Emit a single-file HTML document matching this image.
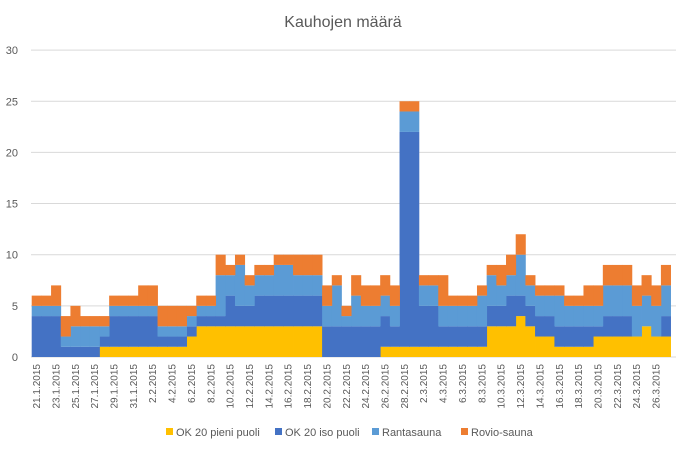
<!DOCTYPE html>
<html><head><meta charset="utf-8">
<style>
html,body{margin:0;padding:0;background:#fff;}
svg{display:block;font-family:"Liberation Sans",sans-serif;}
</style></head>
<body>
<svg id="c" width="686" height="453" viewBox="0 0 686 453" xmlns="http://www.w3.org/2000/svg">
<rect width="686" height="453" fill="#fff"/>
<text x="343" y="27" text-anchor="middle" font-size="16" fill="#595959">Kauhojen määrä</text>
<g id="grid"></g>
<g id="series"></g>
<g id="ylab" font-size="11" fill="#595959" text-anchor="end"></g>
<g id="xlab" font-size="10" fill="#595959"></g>
<g font-size="11" fill="#595959">
<rect x="166" y="428" width="7" height="7" fill="#FFC000"/><text x="176" y="436">OK 20 pieni puoli</text>
<rect x="275" y="428" width="7" height="7" fill="#4472C4"/><text x="285" y="436">OK 20 iso puoli</text>
<rect x="372" y="428" width="7" height="7" fill="#5B9BD5"/><text x="382" y="436">Rantasauna</text>
<rect x="461" y="428" width="7" height="7" fill="#ED7D31"/><text x="471" y="436">Rovio-sauna</text>
</g>
</svg>
<script>
var d=[[0,4,5,6],[0,4,5,6],[0,4,5,7],[0,1,2,4],[0,1,3,5],[0,1,3,4],[0,1,3,4],[1,2,3,4],[1,4,5,6],[1,4,5,6],[1,4,5,6],[1,4,5,7],[1,4,5,7],[1,2,3,5],[1,2,3,5],[1,2,3,5],[2,3,4,5],[3,4,5,6],[3,4,5,6],[3,4,8,10],[3,6,8,9],[3,5,9,10],[3,5,7,8],[3,6,8,9],[3,6,8,9],[3,6,9,10],[3,6,9,10],[3,6,8,10],[3,6,8,10],[3,6,8,10],[0,3,5,7],[0,3,7,8],[0,3,4,5],[0,3,6,8],[0,3,5,7],[0,3,5,7],[1,4,6,8],[1,3,5,7],[1,22,24,25],[1,22,24,25],[1,5,7,8],[1,5,7,8],[1,3,5,8],[1,3,5,6],[1,3,5,6],[1,3,5,6],[1,3,6,7],[3,5,8,9],[3,5,7,9],[3,6,8,10],[4,6,10,12],[3,5,7,8],[2,4,6,7],[2,4,6,7],[1,3,6,7],[1,3,5,6],[1,3,5,6],[1,3,5,7],[2,3,5,7],[2,4,7,9],[2,4,7,9],[2,4,7,9],[2,2,5,7],[3,3,6,8],[2,2,5,7],[2,4,7,9]];
var cols=["#FFC000","#4472C4","#5B9BD5","#ED7D31"];
var x0=31.7,w=9.68,Y=function(v){return 357-10.23*v;};
var ns="http://www.w3.org/2000/svg",s="",g="",yl="",xl="";
for(var k=0;k<=6;k++){var y=Y(k*5);g+='<line x1="31" x2="676" y1="'+y+'" y2="'+y+'" stroke="#d9d9d9" stroke-width="1"/>';yl+='<text x="18" y="'+(y+4)+'">'+(k*5)+'</text>';}
for(var sI=0;sI<4;sI++){
 for(var i=0;i<d.length;i++){var lo=sI?d[i][sI-1]:0,hi=d[i][sI];if(hi>lo){s+='<rect x="'+(x0+w*i)+'" y="'+Y(hi)+'" width="'+(w+0.4)+'" height="'+(Y(lo)-Y(hi))+'" fill="'+cols[sI]+'"/>';}}
}
var dates=[];var dt=new Date(2015,0,21);
for(var i=0;i<66;i++){dates.push(dt.getDate()+'.'+(dt.getMonth()+1)+'.2015');dt.setDate(dt.getDate()+1);}
for(var i=0;i<66;i+=2){var cx=x0+w*(i+0.5)+3.5;xl+='<text transform="translate('+cx+',364) rotate(-90)" text-anchor="end">'+dates[i]+'</text>';}
document.getElementById('grid').innerHTML=g;
document.getElementById('series').innerHTML=s;
document.getElementById('ylab').innerHTML=yl;
document.getElementById('xlab').innerHTML=xl;
</script>
</body></html>
